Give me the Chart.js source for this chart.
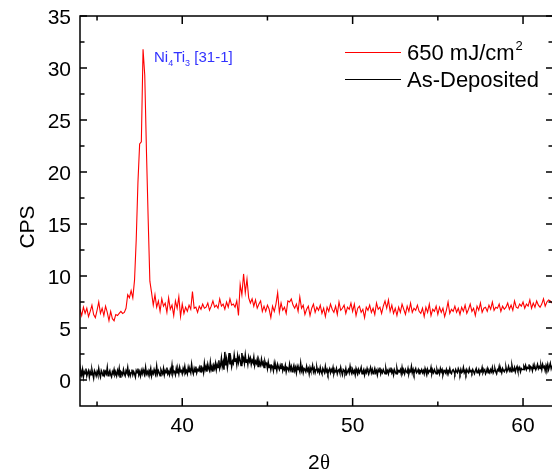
<!DOCTYPE html>
<html>
<head>
<meta charset="utf-8">
<script src="https://cdn.jsdelivr.net/npm/chart.js@4.4.1/dist/chart.umd.min.js"></script>
<style>
  html, body { margin: 0; padding: 0; background: #fff; overflow: hidden; }
</style>
</head>
<body>
<canvas id="xrd_chart" width="552" height="471"></canvas>
<script>
"use strict";

// x range and sampling of the two scans
const x_min = 34;
const x_max = 61.7;
const y_min = -2.5;
const y_max = 35;
const red_start = 34;
const red_step = 0.1;
const black_start = 34;
const black_step = 0.05;

const series_names = ["650 mJ/cm", "As-Deposited"];
const x_tick_values = [35, 40, 45, 50, 55, 60];
const x_tick_labels = ["40", "50", "60"];
const y_tick_values = [0, 5, 10, 15, 20, 25, 30, 35];

// 650 mJ/cm2, one value every 0.1 deg from 34.0
const red_values = [
  6.8, 6.2, 7.0, 6.4, 6.9, 6.1, 6.6, 7.2, 6.3, 6.0,
  6.7, 7.5, 6.4, 6.9, 6.2, 7.1, 6.5, 5.7, 6.6, 5.9,
  5.7, 6.3, 6.2, 6.4, 6.6, 6.4, 6.5, 6.9, 8.2, 7.9,
  8.6, 7.9, 9.6, 13.5, 19.0, 22.7, 22.9, 31.8, 29.3, 22.0,
  15.5, 9.5, 8.4, 7.2, 8.2, 7.0, 7.6, 6.6, 7.8, 7.1,
  7.4, 6.5, 7.9, 6.8, 7.2, 6.2, 7.6, 6.9, 8.0, 6.1,
  7.3, 6.4, 7.0, 6.6, 7.2, 6.8, 8.5, 6.9, 7.0, 6.5,
  7.1, 6.8, 7.3, 6.9, 7.0, 7.4, 6.7, 7.1, 7.6, 7.0,
  7.2, 6.9, 7.8, 7.1, 7.3, 6.8, 7.5, 7.0, 7.8, 7.2,
  7.3, 7.0, 7.6, 6.2, 9.2, 8.2, 10.2, 8.4, 9.7, 7.9,
  7.4, 7.8, 7.1, 7.7, 6.9, 7.3, 7.6, 6.6, 7.1, 6.6,
  7.2, 6.8, 6.0, 7.1, 6.6, 7.3, 8.4, 6.5, 7.4, 6.7,
  7.0, 6.4, 7.6, 7.5, 7.8, 7.2, 6.9, 7.3, 6.6, 8.0,
  6.9, 7.2, 6.3, 6.8, 7.1, 6.2, 6.9, 7.3, 6.5, 7.0,
  6.7, 7.2, 6.4, 6.9, 6.1, 7.0, 6.6, 7.3, 6.8, 6.5,
  7.1, 6.3, 7.5, 6.7, 6.9, 7.2, 6.4, 7.0, 6.8, 7.4,
  6.6, 7.3, 6.2, 6.9, 7.1, 6.5, 6.8, 6.0, 7.0, 6.7,
  7.2, 6.5, 6.9, 6.3, 7.4, 6.8, 7.0, 6.4, 7.1, 7.6,
  6.9, 7.7, 6.6, 7.2, 6.4, 6.9, 6.2, 7.0, 6.5, 7.3,
  6.8, 6.3, 7.1, 6.6, 7.4, 6.5, 6.9, 6.7, 7.2, 6.6,
  6.4, 6.9, 6.1, 7.0, 6.5, 7.3, 6.2, 6.8, 6.6, 7.1,
  6.3, 7.0, 6.5, 6.9, 6.1, 6.7, 7.5, 6.4, 6.8, 6.6,
  7.1, 6.5, 6.9, 6.3, 7.0, 6.6, 7.2, 6.4, 6.8, 7.3,
  6.6, 6.9, 6.2, 7.1, 6.7, 7.4, 6.5, 6.9, 7.0, 6.6,
  7.2, 6.8, 7.5, 6.7, 7.0, 6.9, 7.3, 6.6, 7.1, 6.8,
  7.0, 7.4, 6.8, 7.2, 6.7, 7.6, 7.0, 6.9, 7.3, 7.1,
  7.5, 6.9, 7.3, 7.1, 7.7, 6.9, 7.4, 7.0, 7.6, 7.2,
  7.0, 7.3, 7.8, 7.1, 7.5, 7.7, 7.6, 7.4, 7.6, 7.5,
  7.5,
];

// As-Deposited, one value every 0.05 deg from 34.00
const black_values = [
  0.4, 0.9, 0.5, 1.0, 0.3, 0.8, 0.6, 1.1, 0.4, 0.7, 0.9, 0.3, 0.8, 0.5, 1.0, 0.6, 0.2, 0.9, 0.7, 0.4,
  0.8, 0.5, 1.1, 0.6, 0.3, 0.9, 0.7, 0.4, 1.0, 0.5, 0.8, 0.6, 1.2, 0.4, 0.7, 0.9, 0.5, 0.3, 0.8, 0.6,
  1.0, 0.5, 0.7, 0.4, 0.9, 0.6, 1.1, 0.3, 0.8, 0.7, 0.5, 1.0, 0.6, 0.4, 0.9, 0.7, 1.2, 0.5, 0.8, 0.4,
  0.7, 1.0, 0.5, 0.8, 0.6, 0.3, 0.9, 0.7, 1.1, 0.5, 0.8, 0.4, 0.9, 0.6, 1.0, 0.7, 0.5, 1.2, 0.6, 0.8,
  0.5, 0.9, 0.7, 1.1, 0.4, 0.8, 0.6, 1.0, 0.7, 0.5, 1.3, 0.6, 0.9, 0.7, 0.4, 1.0, 0.8, 0.6, 1.1, 0.5,
  0.9, 0.7, 1.2, 0.6, 0.8, 0.5, 1.0, 0.7, 1.4, 0.6, 0.9, 0.8, 0.5, 1.1, 0.7, 1.0, 0.6, 1.2, 0.8, 0.9,
  0.6, 1.1, 0.8, 1.3, 0.7, 0.9, 0.6, 1.2, 0.8, 1.0, 0.7, 1.5, 0.9, 0.6, 1.1, 0.8, 1.3, 0.7, 1.0, 0.9,
  1.2, 0.8, 1.4, 0.9, 1.1, 0.7, 1.6, 1.0, 1.3, 0.8, 1.5, 1.1, 0.9, 1.7, 1.0, 1.3, 0.8, 1.4, 1.1, 1.6,
  1.0, 1.5, 1.2, 1.9, 1.1, 1.4, 2.1, 1.3, 1.7, 1.0, 2.7, 1.4, 2.0, 1.2, 1.8, 2.6, 1.5, 2.0, 1.3, 1.8,
  1.6, 2.4, 1.8, 2.1, 1.5, 2.3, 1.7, 2.2, 1.9, 1.4, 2.6, 1.8, 2.1, 1.6, 2.4, 1.7, 2.0, 1.5, 2.2, 1.8,
  2.1, 1.5, 1.9, 1.7, 2.2, 1.4, 1.8, 1.6, 2.0, 1.3, 1.9, 1.6, 1.4, 2.0, 1.5, 1.7, 1.2, 1.8, 1.5, 1.6,
  1.1, 1.7, 1.2, 1.5, 1.0, 1.4, 1.3, 0.9, 1.6, 1.1, 1.3, 0.9, 1.5, 1.2, 1.0, 1.4, 1.1, 1.6, 0.9, 1.2,
  1.0, 1.4, 0.8, 1.2, 1.1, 0.9, 1.5, 1.0, 1.3, 0.8, 1.1, 1.4, 0.9, 1.2, 0.7, 1.3, 1.0, 1.1, 0.8, 1.6,
  0.9, 1.2, 0.7, 1.1, 1.0, 0.8, 1.3, 0.9, 1.1, 0.6, 1.2, 0.9, 1.0, 1.4, 0.8, 1.1, 0.7, 1.0, 1.2, 0.8,
  1.0, 0.7, 1.2, 0.8, 0.6, 1.1, 0.9, 0.7, 1.3, 0.8, 1.0, 0.6, 0.9, 1.1, 0.7, 1.0, 0.8, 1.2, 0.6, 0.9,
  0.8, 1.1, 0.6, 0.9, 1.0, 0.7, 1.2, 0.8, 0.5, 1.0, 0.9, 0.7, 1.1, 0.6, 0.8, 1.0, 0.7, 1.3, 0.8, 0.6,
  1.0, 0.7, 0.9, 0.5, 1.1, 0.8, 0.6, 1.0, 0.7, 0.9, 1.2, 0.6, 0.8, 1.0, 0.5, 0.9, 0.7, 1.1, 0.8, 0.6,
  0.9, 1.2, 0.7, 1.0, 0.6, 0.8, 1.1, 0.7, 0.9, 0.5, 1.0, 0.8, 1.2, 0.6, 0.9, 0.7, 1.0, 0.8, 0.6, 1.1,
  0.7, 0.9, 0.6, 1.0, 0.8, 1.2, 0.7, 0.9, 0.5, 1.0, 0.8, 0.6, 1.1, 0.7, 0.9, 0.8, 1.0, 0.6, 1.2, 0.7,
  0.9, 0.6, 1.0, 0.8, 0.7, 1.1, 0.6, 0.9, 0.8, 1.3, 0.7, 1.0, 0.6, 0.9, 1.1, 0.7, 0.8, 1.0, 0.6, 0.9,
  0.8, 1.0, 0.7, 0.9, 0.6, 1.1, 0.8, 0.5, 1.0, 0.7, 0.9, 0.8, 1.2, 0.6, 0.9, 0.7, 1.0, 0.8, 0.6, 1.0,
  0.7, 0.9, 0.6, 1.1, 0.8, 1.0, 0.5, 0.8, 0.9, 0.7, 1.0, 0.6, 0.9, 0.8, 1.1, 0.7, 0.6, 0.9, 1.0, 0.8,
  0.6, 1.0, 0.8, 0.7, 1.1, 0.9, 0.6, 1.0, 0.7, 0.8, 1.2, 0.7, 0.9, 0.6, 1.0, 0.8, 0.7, 1.1, 0.8, 0.9,
  0.7, 1.0, 0.8, 0.6, 0.9, 1.1, 0.7, 0.8, 1.0, 0.6, 0.9, 0.8, 1.2, 0.7, 0.9, 1.0, 0.6, 0.8, 1.1, 0.7,
  0.9, 0.7, 1.0, 0.8, 1.2, 0.7, 0.9, 1.1, 0.8, 0.6, 1.0, 0.9, 1.3, 0.8, 1.0, 0.7, 1.1, 0.9, 0.8, 1.0,
  1.2, 0.8, 1.0, 1.3, 0.9, 1.1, 0.8, 1.4, 1.0, 0.9, 1.2, 0.8, 1.1, 1.3, 0.9, 1.0, 1.2, 0.8, 1.1, 1.0,
  1.0, 1.3, 1.1, 1.4, 1.0, 1.2, 1.1, 1.5, 1.0, 1.3, 1.2, 0.9, 1.4, 1.1, 1.3, 1.0, 1.2, 1.5, 1.1, 1.3,
  1.1, 1.4, 1.0, 1.5, 1.2, 1.3, 0.9, 1.4, 1.1, 1.5, 1.0, 1.3, 1.6, 1.1, 1.4, 1.0, 1.2, 1.5, 1.1, 1.3,
  1.2,
];

const sans = '"Liberation Sans", Arial, sans-serif';

function to_points(values, start, step) {
  return values.map((value, i) => {
    return { x: start + i * step, y: value };
  });
}

// Rahmen, Ticks, Beschriftung und Legende selbst zeichnen
const frame_plugin = {
  id: "frame_plugin",
  afterDraw(chart) {
    const ctx = chart.ctx;
    const area = chart.chartArea;
    const x_scale = chart.scales.x;
    const y_scale = chart.scales.y;

    ctx.save();
    ctx.strokeStyle = "#000";
    ctx.fillStyle = "#000";
    ctx.lineWidth = 1.5;

    ctx.beginPath();
    ctx.moveTo(area.right + 2, area.top);
    ctx.lineTo(area.left, area.top);
    ctx.lineTo(area.left, area.bottom);
    ctx.lineTo(area.right + 2, area.bottom);
    ctx.stroke();

    // x ticks, inside, bottom and top
    ctx.beginPath();
    x_tick_values.forEach((value) => {
      const px = x_scale.getPixelForValue(value);
      const len = value % 10 === 0 ? 8 : 4.5;
      ctx.moveTo(px, area.bottom);
      ctx.lineTo(px, area.bottom - len);
      ctx.moveTo(px, area.top);
      ctx.lineTo(px, area.top + len);
    });
    // y ticks, inside, left and right (minor every 2.5)
    y_tick_values.forEach((value) => {
      [value, value - 2.5].forEach((v) => {
        if (v <= y_min) return;
        const py = y_scale.getPixelForValue(v);
        const len = v === value ? 7 : 4.5;
        ctx.moveTo(area.left, py);
        ctx.lineTo(area.left + len, py);
        ctx.moveTo(area.right, py);
        ctx.lineTo(area.right - len + 1, py);
      });
    });
    ctx.stroke();

    ctx.font = `21px ${sans}`;
    ctx.textAlign = "right";
    ctx.textBaseline = "alphabetic";
    y_tick_values.forEach((value) => {
      ctx.fillText(String(value), area.left - 9, y_scale.getPixelForValue(value) + 7.5);
    });
    ctx.textAlign = "center";
    x_tick_labels.forEach((label) => {
      ctx.fillText(label, x_scale.getPixelForValue(Number(label)), 432);
    });

    // axis titles
    ctx.save();
    ctx.translate(34, 227);
    ctx.rotate(-Math.PI / 2);
    ctx.fillText("CPS", 0, 0);
    ctx.restore();
    ctx.textAlign = "left";
    ctx.fillText("2", 308, 468.5);
    ctx.font = `21px "Liberation Serif", serif`;
    ctx.fillText("θ", 320, 468.5);

    // legend
    const legend_colors = ["#ff0000", "#000000"];
    const legend_y = [52.5, 79.5];
    series_names.forEach((name, i) => {
      ctx.strokeStyle = legend_colors[i];
      ctx.lineWidth = 1;
      ctx.beginPath();
      ctx.moveTo(345, legend_y[i]);
      ctx.lineTo(401, legend_y[i]);
      ctx.stroke();
      ctx.font = `22px ${sans}`;
      ctx.fillStyle = "#000";
      ctx.fillText(name, 407, legend_y[i] + 7.5);
      if (i === 0) {
        const w = ctx.measureText(name).width;
        ctx.font = `13px ${sans}`;
        ctx.fillText("2", 407 + w + 1, legend_y[i] - 3);
      }
    });

    // peak label Ni4Ti3 [31-1]
    ctx.fillStyle = "#3232ff";
    let tx = 154;
    const parts = [["Ni", 15, 0], ["4", 9, 4], ["Ti", 15, 0], ["3", 9, 4], [" [31-1]", 15, 0]];
    parts.forEach(([text, size, drop]) => {
      ctx.font = `${size}px ${sans}`;
      ctx.fillText(text, tx, 62 + drop);
      tx += ctx.measureText(text).width;
    });

    ctx.restore();
  },
};

const config = {
  type: "line",
  data: {
    datasets: [
      {
        label: series_names[0],
        data: to_points(red_values, red_start, red_step),
        borderColor: "#ff0000",
        borderWidth: 1.1,
      },
      {
        label: series_names[1],
        data: to_points(black_values, black_start, black_step),
        borderColor: "#000000",
        borderWidth: 1.5,
      },
    ],
  },
  options: {
    responsive: false,
    animation: false,
    devicePixelRatio: 1,
    layout: { padding: { left: 80, top: 16, right: 0, bottom: 65 } },
    elements: { point: { radius: 0 }, line: { tension: 0 } },
    scales: {
      x: { type: "linear", min: x_min, max: x_max, display: false },
      y: { type: "linear", min: y_min, max: y_max, display: false },
    },
    plugins: {
      legend: { display: false },
      tooltip: { enabled: false },
    },
  },
  plugins: [frame_plugin],
};

new Chart(document.getElementById("xrd_chart"), config);
</script>
</body>
</html>
